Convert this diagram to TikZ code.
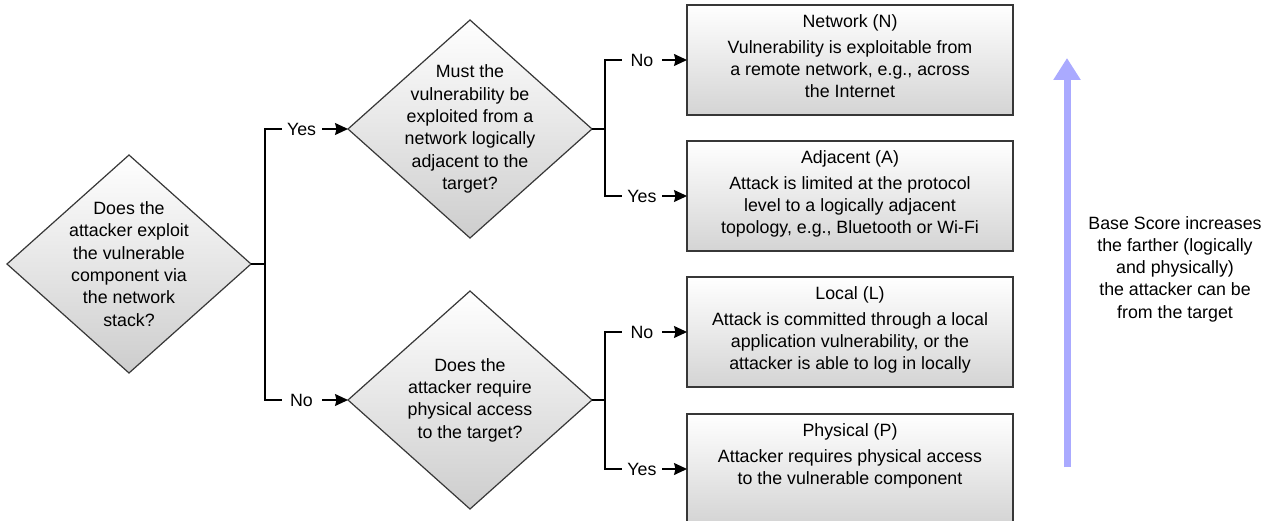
\documentclass[tikz,border=0pt]{standalone}
\usepackage{fontspec}
\setmainfont{Liberation Sans}
\usetikzlibrary{shapes.geometric,arrows.meta}
\definecolor{edgegray}{RGB}{55,55,55}
\definecolor{boxbottom}{RGB}{212,212,212}
\definecolor{diabottom}{RGB}{205,205,205}
\definecolor{scoreblue}{RGB}{170,170,255}
\tikzset{
  txt/.style={font=\fontsize{17.8}{22.3}\selectfont, align=center, inner sep=0pt},
  dia/.style={diamond, draw=edgegray, line width=1.2pt, top color=white, bottom color=diabottom,
    minimum width=244pt, minimum height=218pt, inner sep=0pt, outer sep=0pt},
  outbox/.style={rectangle, draw=edgegray, line width=1.2pt, top color=white, bottom color=boxbottom,
    minimum width=326pt, minimum height=110pt, inner xsep=8pt, inner ysep=10pt, outer sep=0pt,
    font=\fontsize{17.8}{22.3}\selectfont},
  conn/.style={draw=black, line width=1.3pt, -{Stealth[length=13pt,width=12pt,inset=1.5pt]}},
  lbl/.style={fill=white, inner ysep=2pt, inner xsep=0pt, minimum width=40pt,
    font=\fontsize{17.8}{22.3}\selectfont}
}
\newcommand{\boxcontent}[2]{\parbox[t][90pt][t]{310pt}{\centering #1\\[3pt] #2}}
\begin{document}
\begin{tikzpicture}[x=1pt,y=-1pt]
\useasboundingbox (0,0) rectangle (1273,521);
\fill[white] (0,0) rectangle (1273,521);

% decisions
\node[dia] (d1) at (129,264) {};
\node[txt] (d1t) at (d1.center) {Does the\\attacker exploit\\the vulnerable\\component via\\the network\\stack?};
\node[dia] (d2) at (470,129) {};
\node[txt] (d2t) at (d2.center) {Must the\\vulnerability be\\exploited from a\\network logically\\adjacent to the\\target?};
\node[dia] (d3) at (470,400) {};
\node[txt] (d3t) at (d3.center) {Does the\\attacker require\\physical access\\to the target?};

% outcomes
\node[outbox] (n) at (850,60) {\boxcontent{Network (N)}{Vulnerability is exploitable from\\a remote network, e.g., across\\the Internet}};
\node[outbox] (a) at (850,196) {\boxcontent{Adjacent (A)}{Attack is limited at the protocol\\level to a logically adjacent\\topology, e.g., Bluetooth or Wi-Fi}};
\node[outbox] (l) at (850,332) {\boxcontent{Local (L)}{Attack is committed through a local\\application vulnerability, or the\\attacker is able to log in locally}};
\node[outbox] (p) at (850,469) {\boxcontent{Physical (P)}{Attacker requires physical access\\to the vulnerable component}};

% connectors
\coordinate (s1) at (265,264);
\coordinate (s2) at (605,129);
\coordinate (s3) at (605,400);
\draw[line width=1.3pt] (d1.east) -- (s1);
\draw[line width=1.3pt] (d2.east) -- (s2);
\draw[line width=1.3pt] (d3.east) -- (s3);
\draw[conn] (s1) |- node[lbl,pos=0.72]{Yes} (d2.west);
\draw[conn] (s1) |- node[lbl,pos=0.72]{No} (d3.west);
\draw[conn] (s2) |- node[lbl,pos=0.725]{No} (n.west);
\draw[conn] (s2) |- node[lbl,pos=0.725]{Yes} (a.west);
\draw[conn] (s3) |- node[lbl,pos=0.725]{No} (l.west);
\draw[conn] (s3) |- node[lbl,pos=0.725]{Yes} (p.west);

% score arrow
\coordinate (ab) at (1067,467);
\coordinate (at) at (1067,58);
\draw[draw=scoreblue, line width=7pt, -{Triangle[length=22pt,width=26pt]}] (ab) -- (at);
\node[txt] (score) at (1175,269) {Base Score increases\\the farther (logically\\and physically)\\the attacker can be\\from the target};
\end{tikzpicture}
\end{document}
